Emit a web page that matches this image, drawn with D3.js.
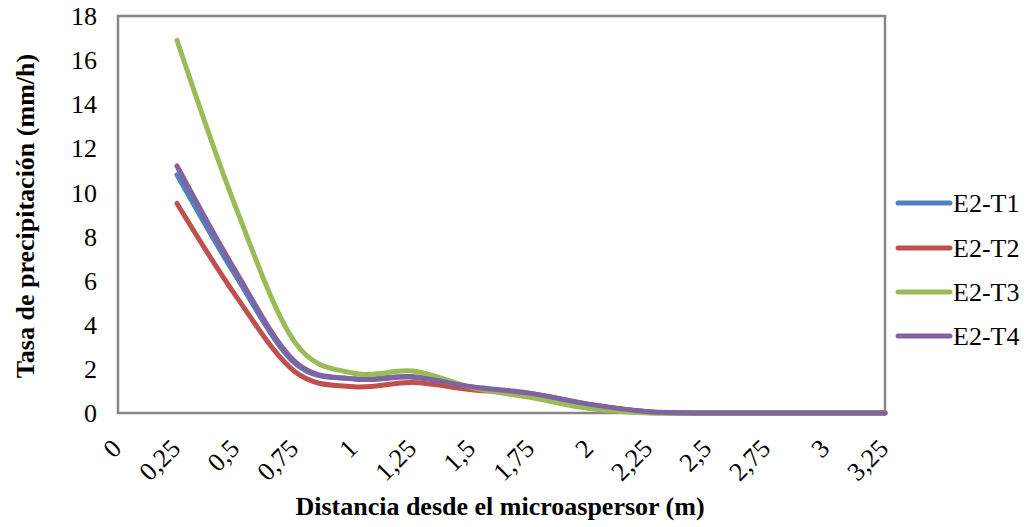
<!DOCTYPE html>
<html>
<head>
<meta charset="utf-8">
<script src="https://cdn.jsdelivr.net/npm/d3@7"></script>
<style>
  html, body { margin: 0; padding: 0; background: #fff; }
  svg { display: block; }
  text { font-family: "Liberation Serif", "Times New Roman", Times, serif; fill: #000; }
</style>
</head>
<body>
<svg id="chart" width="1031" height="527"></svg>
<script>
// Distances from the micro-sprinkler (m)
const categories = ["0", "0,25", "0,5", "0,75", "1", "1,25", "1,5", "1,75", "2", "2,25", "2,5", "2,75", "3", "3,25"];
// Precipitation rate (mm/h) per test; no reading at 0 m
const serieT1 = [null, 10.8, 6.2, 2.25, 1.55, 1.65, 1.15, 0.88, 0.38, 0.05, 0, 0, 0, 0];
const serieT2 = [null, 9.5, 5.3, 1.87, 1.19, 1.38, 1.05, 0.85, 0.37, 0.05, 0, 0, 0, 0];
const serieT3 = [null, 16.9, 9.3, 3.2, 1.8, 1.9, 1.15, 0.7, 0.2, 0, 0, 0, 0, 0];
const serieT4 = [null, 11.2, 6.4, 2.33, 1.54, 1.62, 1.19, 0.89, 0.39, 0.06, 0, 0, 0, 0];
const seriesNames = ["E2-T1", "E2-T2", "E2-T3", "E2-T4"];
const yTicks = [0, 2, 4, 6, 8, 10, 12, 14, 16, 18];

const seriesData = [serieT1, serieT2, serieT3, serieT4];
const colors = ["#4F81BD", "#C0504D", "#9BBB59", "#8064A2"];

const svg = d3.select("#chart");
const plot = { left: 118, right: 885, top: 16, bottom: 413 };
const fontSize = "26px";

const x = d3.scalePoint()
  .domain(categories)
  .range([plot.left, plot.right]);

const y = d3.scaleLinear()
  .domain([0, 18])
  .range([plot.bottom, plot.top]);

// Y tick labels
svg.append("g")
  .selectAll("text")
  .data(yTicks)
  .join("text")
  .attr("x", 97)
  .attr("y", d => y(d))
  .attr("dy", "0.35em")
  .attr("text-anchor", "end")
  .style("font-size", fontSize)
  .text(d => d);

// X tick labels, rotated
svg.append("g")
  .selectAll("text")
  .data(categories)
  .join("text")
  .attr("transform", d => `translate(${x(d) + 5},${450}) rotate(-45)`)
  .attr("text-anchor", "end")
  .style("font-size", fontSize)
  .text(d => d);

// Smoothed lines
const line = d3.line()
  .defined(d => d != null)
  .x((d, i) => x(categories[i]))
  .y(d => y(d))
  .curve(d3.curveCatmullRom.alpha(0));

// Plot frame
svg.append("rect")
  .attr("x", plot.left)
  .attr("y", plot.top)
  .attr("width", plot.right - plot.left)
  .attr("height", plot.bottom - plot.top)
  .attr("fill", "none")
  .attr("stroke", "#868686")
  .attr("stroke-width", 2.5);

svg.append("g")
  .selectAll("path")
  .data(seriesData)
  .join("path")
  .attr("d", d => line(d))
  .attr("fill", "none")
  .attr("stroke", (d, i) => colors[i])
  .attr("stroke-width", 5)
  .attr("stroke-linecap", "round")
  .attr("stroke-linejoin", "round");

// Legend
const legend = svg.append("g");
const legendY = [203, 248, 292, 336];
seriesNames.forEach((name, i) => {
  legend.append("line")
    .attr("x1", 898).attr("x2", 950)
    .attr("y1", legendY[i]).attr("y2", legendY[i])
    .attr("stroke", colors[i])
    .attr("stroke-width", 5)
    .attr("stroke-linecap", "round");
  legend.append("text")
    .attr("x", 953)
    .attr("y", legendY[i])
    .attr("dy", "0.35em")
    .style("font-size", fontSize)
    .text(name);
});

// Axis titles
svg.append("text")
  .attr("x", 500)
  .attr("y", 515)
  .attr("text-anchor", "middle")
  .style("font-size", fontSize)
  .style("font-weight", "bold")
  .text("Distancia desde el microaspersor (m)");

svg.append("text")
  .attr("transform", `translate(34,216) rotate(-90)`)
  .attr("text-anchor", "middle")
  .style("font-size", fontSize)
  .style("font-weight", "bold")
  .text("Tasa de precipitación (mm/h)");
</script>
</body>
</html>
